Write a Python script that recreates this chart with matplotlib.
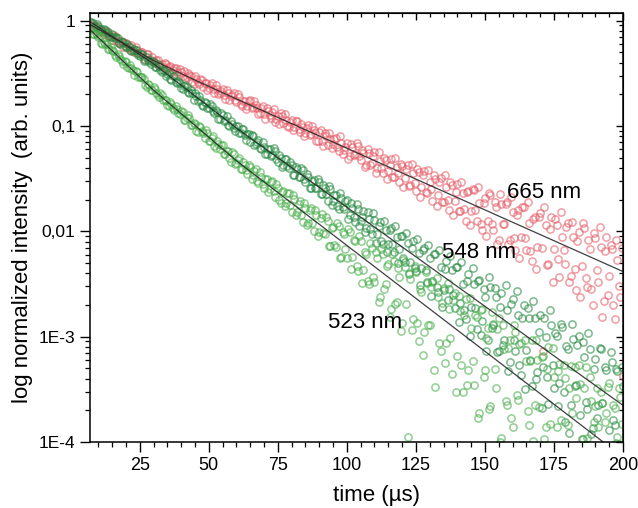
import matplotlib
matplotlib.use("Agg")
import matplotlib.pyplot as plt
import numpy as np
from matplotlib.ticker import FixedLocator, MultipleLocator, LogLocator, NullFormatter

plt.rcParams['font.family'] = ['Liberation Sans', 'DejaVu Sans']

# sampling times (µs), whole and half steps
time_us = [
    7, 8, 9, 10, 11, 12, 13, 14, 15, 16,
    17, 18, 19, 20, 21, 22, 23, 24, 25, 26,
    27, 28, 29, 30, 31, 32, 33, 34, 35, 36,
    37, 38, 39, 40, 41, 42, 43, 44, 45, 46,
    47, 48, 49, 50, 51, 52, 53, 54, 55, 56,
    57, 58, 59, 60, 61, 62, 63, 64, 65, 66,
    67, 68, 69, 70, 71, 72, 73, 74, 75, 76,
    77, 78, 79, 80, 81, 82, 83, 84, 85, 86,
    87, 88, 89, 90, 91, 92, 93, 94, 95, 96,
    97, 98, 99, 100, 101, 102, 103, 104, 105, 106,
    107, 108, 109, 110, 111, 112, 113, 114, 115, 116,
    117, 118, 119, 120, 121, 122, 123, 124, 125, 126,
    127, 128, 129, 130, 131, 132, 133, 134, 135, 136,
    137, 138, 139, 140, 141, 142, 143, 144, 145, 146,
    147, 148, 149, 150, 151, 152, 153, 154, 155, 156,
    157, 158, 159, 160, 161, 162, 163, 164, 165, 166,
    167, 168, 169, 170, 171, 172, 173, 174, 175, 176,
    177, 178, 179, 180, 181, 182, 183, 184, 185, 186,
    187, 188, 189, 190, 191, 192, 193, 194, 195, 196,
    197, 198, 199, 200,
]
time_half_us = [
    7.5, 8.5, 9.5, 10.5, 11.5, 12.5, 13.5, 14.5, 15.5, 16.5,
    17.5, 18.5, 19.5, 20.5, 21.5, 22.5, 23.5, 24.5, 25.5, 26.5,
    27.5, 28.5, 29.5, 30.5, 31.5, 32.5, 33.5, 34.5, 35.5, 36.5,
    37.5, 38.5, 39.5, 40.5, 41.5, 42.5, 43.5, 44.5, 45.5, 46.5,
    47.5, 48.5, 49.5, 50.5, 51.5, 52.5, 53.5, 54.5, 55.5, 56.5,
    57.5, 58.5, 59.5, 60.5, 61.5, 62.5, 63.5, 64.5, 65.5, 66.5,
    67.5, 68.5, 69.5, 70.5, 71.5, 72.5, 73.5, 74.5, 75.5, 76.5,
    77.5, 78.5, 79.5, 80.5, 81.5, 82.5, 83.5, 84.5, 85.5, 86.5,
    87.5, 88.5, 89.5, 90.5, 91.5, 92.5, 93.5, 94.5, 95.5, 96.5,
    97.5, 98.5, 99.5, 100.5, 101.5, 102.5, 103.5, 104.5, 105.5, 106.5,
    107.5, 108.5, 109.5, 110.5, 111.5, 112.5, 113.5, 114.5, 115.5, 116.5,
    117.5, 118.5, 119.5, 120.5, 121.5, 122.5, 123.5, 124.5, 125.5, 126.5,
    127.5, 128.5, 129.5, 130.5, 131.5, 132.5, 133.5, 134.5, 135.5, 136.5,
    137.5, 138.5, 139.5, 140.5, 141.5, 142.5, 143.5, 144.5, 145.5, 146.5,
    147.5, 148.5, 149.5, 150.5, 151.5, 152.5, 153.5, 154.5, 155.5, 156.5,
    157.5, 158.5, 159.5, 160.5, 161.5, 162.5, 163.5, 164.5, 165.5, 166.5,
    167.5, 168.5, 169.5, 170.5, 171.5, 172.5, 173.5, 174.5, 175.5, 176.5,
    177.5, 178.5, 179.5, 180.5, 181.5, 182.5, 183.5, 184.5, 185.5, 186.5,
    187.5, 188.5, 189.5, 190.5, 191.5, 192.5, 193.5, 194.5, 195.5, 196.5,
    197.5, 198.5, 199.5,
]

# log10 of normalized intensity
log_665 = [
    -0.03, -0.07, -0.05, -0.09, -0.09, -0.13, -0.10, -0.14, -0.18, -0.15,
    -0.20, -0.19, -0.25, -0.21, -0.25, -0.23, -0.30, -0.28, -0.31, -0.30,
    -0.35, -0.32, -0.37, -0.38, -0.37, -0.43, -0.41, -0.40, -0.46, -0.43,
    -0.47, -0.45, -0.52, -0.49, -0.48, -0.54, -0.52, -0.58, -0.53, -0.58,
    -0.55, -0.63, -0.59, -0.64, -0.59, -0.69, -0.65, -0.69, -0.65, -0.74,
    -0.69, -0.72, -0.69, -0.77, -0.73, -0.81, -0.76, -0.81, -0.75, -0.82,
    -0.80, -0.89, -0.83, -0.89, -0.83, -0.90, -0.87, -0.96, -0.91, -0.88,
    -0.97, -0.94, -1.01, -0.94, -1.01, -0.95, -1.06, -1.01, -1.07, -0.99,
    -1.08, -1.04, -1.14, -1.06, -1.14, -1.07, -1.18, -1.12, -1.17, -1.11,
    -1.24, -1.16, -1.23, -1.16, -1.29, -1.20, -1.27, -1.19, -1.32, -1.26,
    -1.37, -1.26, -1.35, -1.25, -1.40, -1.33, -1.45, -1.32, -1.43, -1.31,
    -1.48, -1.39, -1.53, -1.38, -1.49, -1.37, -1.56, -1.45, -1.62, -1.44,
    -1.58, -1.43, -1.64, -1.53, -1.71, -1.50, -1.66, -1.49, -1.72, -1.58,
    -1.80, -1.56, -1.71, -1.55, -1.81, -1.64, -1.90, -1.62, -1.81, -1.61,
    -1.90, -1.73, -1.99, -1.68, -1.90, -1.66, -1.99, -1.77, -2.08, -1.74,
    -1.93, -1.72, -2.08, -1.82, -2.18, -1.80, -2.05, -1.77, -2.18, -1.92,
    -2.28, -1.86, -2.15, -1.83, -3.14, -1.94, -2.31, -1.86, -2.17, -1.94,
    -2.43, -2.05, -2.31, -1.92, -2.42, -2.05, -2.56, -2.01, -2.33, -1.97,
    -2.53, -2.17, -2.70, -2.06, -2.48, -2.15, -2.66, -2.05, -2.42, -2.17,
    -2.83, -2.27, -2.62, -3.37,
]
log_665_half = [
    -0.06, -0.04, -0.07, -0.11, -0.10, -0.10, -0.15, -0.16, -0.14, -0.19,
    -0.21, -0.19, -0.21, -0.26, -0.25, -0.29, -0.25, -0.31, -0.30, -0.36,
    -0.32, -0.37, -0.35, -0.40, -0.37, -0.42, -0.44, -0.41, -0.44, -0.49,
    -0.45, -0.49, -0.46, -0.53, -0.55, -0.50, -0.53, -0.60, -0.55, -0.60,
    -0.56, -0.59, -0.66, -0.61, -0.65, -0.61, -0.70, -0.67, -0.71, -0.66,
    -0.75, -0.71, -0.75, -0.70, -0.79, -0.76, -0.84, -0.76, -0.83, -0.76,
    -0.83, -0.88, -0.81, -0.93, -0.86, -0.92, -0.84, -0.93, -0.98, -0.91,
    -0.89, -1.00, -0.96, -1.04, -0.95, -1.03, -0.98, -1.10, -1.02, -1.09,
    -1.00, -1.07, -1.14, -1.04, -1.19, -1.10, -1.07, -1.21, -1.12, -1.20,
    -1.10, -1.27, -1.20, -1.31, -1.17, -1.28, -1.16, -1.29, -1.23, -1.39,
    -1.22, -1.37, -1.29, -1.45, -1.25, -1.40, -1.30, -1.50, -1.37, -1.48,
    -1.30, -1.45, -1.36, -1.58, -1.41, -1.57, -1.36, -1.54, -1.41, -1.67,
    -1.47, -1.63, -1.42, -1.60, -1.47, -1.76, -1.53, -1.72, -1.47, -1.70,
    -1.53, -1.85, -1.63, -1.81, -1.53, -1.79, -1.63, -1.94, -1.60, -1.80,
    -1.58, -1.93, -1.73, -2.04, -1.64, -1.93, -1.72, -2.12, -1.65, -1.93,
    -1.74, -2.12, -1.67, -2.06, -1.85, -2.25, -1.77, -2.06, -1.72, -2.19,
    -1.88, -2.36, -1.86, -2.16, -1.77, -2.32, -1.98, -2.48, -1.88, -2.26,
    -1.82, -2.18, -1.96, -2.48, -1.91, -2.36, -2.09, -2.62, -1.92, -2.44,
    -2.08, -2.55, -2.02, -2.37, -1.96, -2.81, -2.19, -2.60, -2.13, -2.70,
    -2.08, -2.52, -2.16,
]

log_548 = [
    -0.01, -0.02, -0.06, -0.05, -0.08, -0.08, -0.12, -0.15, -0.13, -0.17,
    -0.17, -0.22, -0.20, -0.25, -0.24, -0.29, -0.27, -0.31, -0.34, -0.32,
    -0.37, -0.37, -0.41, -0.39, -0.44, -0.43, -0.49, -0.48, -0.51, -0.55,
    -0.53, -0.58, -0.57, -0.64, -0.62, -0.63, -0.69, -0.69, -0.69, -0.76,
    -0.75, -0.81, -0.78, -0.83, -0.81, -0.88, -0.87, -0.93, -0.90, -0.94,
    -0.99, -0.95, -1.02, -1.00, -1.07, -1.03, -1.09, -1.08, -1.15, -1.10,
    -1.17, -1.13, -1.22, -1.20, -1.27, -1.22, -1.28, -1.24, -1.34, -1.30,
    -1.37, -1.31, -1.40, -1.37, -1.47, -1.41, -1.48, -1.42, -1.53, -1.48,
    -1.59, -1.51, -1.59, -1.53, -1.65, -1.59, -1.71, -1.60, -1.71, -1.66,
    -1.79, -1.68, -1.79, -1.70, -1.85, -1.78, -1.91, -1.79, -1.90, -1.81,
    -1.97, -1.88, -2.03, -1.89, -2.03, -1.91, -2.12, -1.99, -2.12, -1.97,
    -2.20, -2.05, -2.17, -2.04, -2.29, -2.11, -2.29, -2.09, -2.38, -2.21,
    -2.35, -2.16, -2.48, -2.25, -2.47, -2.22, -2.58, -2.34, -2.56, -2.28,
    -2.55, -2.37, -2.73, -2.34, -2.68, -2.50, -2.83, -2.41, -2.72, -2.50,
    -2.93, -2.46, -2.85, -2.62, -3.03, -2.53, -2.89, -2.62, -3.14, -2.59,
    -3.03, -2.75, -3.24, -2.64, -3.14, -2.79, -3.36, -2.70, -3.13, -2.82,
    -3.47, -2.82, -3.34, -2.79, -3.29, -3.00, -3.64, -2.89, -3.49, -2.99,
    -3.44, -2.91, -3.81, -3.12, -3.65, -3.02, -3.46, -2.99, -3.97, -3.19,
    -3.69, -3.12, -3.87, -3.21, -3.65, -3.12, -4.17, -3.32, -3.89, -3.24,
    -3.84, -3.33, -4.13, -3.47,
]
log_548_half = [
    -0.01, -0.06, -0.03, -0.08, -0.11, -0.09, -0.11, -0.16, -0.16, -0.16,
    -0.21, -0.20, -0.24, -0.22, -0.28, -0.28, -0.28, -0.33, -0.32, -0.38,
    -0.35, -0.39, -0.38, -0.44, -0.41, -0.47, -0.47, -0.53, -0.50, -0.56,
    -0.53, -0.59, -0.59, -0.65, -0.61, -0.68, -0.66, -0.75, -0.72, -0.72,
    -0.80, -0.77, -0.83, -0.79, -0.86, -0.85, -0.93, -0.88, -0.95, -0.91,
    -1.00, -0.98, -1.05, -1.00, -1.07, -1.03, -1.13, -1.08, -1.09, -1.18,
    -1.15, -1.21, -1.15, -1.27, -1.22, -1.29, -1.21, -1.31, -1.28, -1.39,
    -1.31, -1.38, -1.34, -1.47, -1.39, -1.48, -1.40, -1.50, -1.46, -1.59,
    -1.52, -1.59, -1.50, -1.65, -1.56, -1.65, -1.57, -1.75, -1.66, -1.76,
    -1.64, -1.77, -1.71, -1.88, -1.73, -1.86, -1.74, -1.95, -1.86, -2.01,
    -1.82, -1.98, -1.83, -2.11, -1.95, -2.09, -1.90, -2.20, -1.99, -2.12,
    -1.95, -2.30, -2.04, -2.25, -2.02, -2.41, -2.16, -2.35, -2.07, -2.51,
    -2.18, -2.37, -2.13, -2.61, -2.22, -2.53, -2.18, -2.72, -2.36, -2.65,
    -2.23, -2.60, -2.34, -2.86, -2.29, -2.75, -2.47, -2.99, -2.35, -2.73,
    -2.47, -2.98, -2.55, -3.14, -2.43, -2.92, -2.54, -3.15, -2.72, -3.08,
    -2.51, -3.33, -2.69, -3.03, -2.57, -3.27, -2.82, -3.50, -2.73, -3.22,
    -2.66, -3.40, -2.96, -3.68, -2.82, -3.38, -2.75, -3.27, -2.97, -3.66,
    -2.88, -3.53, -3.09, -3.91, -2.88, -3.47, -3.08, -3.74, -3.05, -3.62,
    -2.97, -3.92, -3.31, -3.77, -3.11, -3.63, -3.29, -4.10, -3.15, -3.79,
    -3.31, -4.02, -3.29,
]

log_523 = [
    -0.08, -0.13, -0.12, -0.16, -0.21, -0.20, -0.22, -0.27, -0.28, -0.33,
    -0.32, -0.36, -0.41, -0.39, -0.45, -0.45, -0.52, -0.49, -0.54, -0.54,
    -0.61, -0.60, -0.66, -0.63, -0.69, -0.73, -0.71, -0.75, -0.80, -0.77,
    -0.83, -0.81, -0.88, -0.86, -0.94, -0.92, -0.92, -0.99, -0.98, -1.06,
    -1.01, -1.07, -1.04, -1.14, -1.11, -1.19, -1.14, -1.22, -1.18, -1.27,
    -1.24, -1.34, -1.27, -1.35, -1.30, -1.41, -1.37, -1.46, -1.39, -1.47,
    -1.41, -1.54, -1.48, -1.59, -1.50, -1.60, -1.52, -1.67, -1.59, -1.73,
    -1.62, -1.73, -1.64, -1.82, -1.69, -1.82, -1.71, -1.91, -1.78, -1.92,
    -1.78, -2.00, -1.85, -2.01, -1.84, -2.03, -1.90, -2.14, -1.96, -2.15,
    -1.95, -2.24, -2.03, -2.25, -2.01, -2.24, -2.09, -2.38, -2.09, -2.37,
    -2.22, -2.50, -2.16, -2.48, -2.25, -2.62, -2.22, -2.50, -2.31, -2.74,
    -2.28, -2.67, -2.43, -2.87, -2.34, -3.95, -2.45, -2.83, -2.39, -3.04,
    -2.58, -2.96, -2.49, -2.89, -2.48, -3.48, -2.62, -3.14, -2.54, -3.06,
    -2.74, -3.35, -2.59, -3.18, -2.76, -3.53, -2.64, -3.32, -2.92, -3.46,
    -2.81, -3.72, -2.74, -3.32, -2.92, -3.66, -2.88, -3.49, -2.82, -3.96,
    -3.12, -3.65, -3.03, -3.86, -2.96, -3.60, -3.06, -4.22, -3.23, -3.84,
    -3.03, -3.65, -3.22, -4.14, -3.18, -3.86, -3.10, -4.07, -3.38, -3.86,
    -3.26, -4.35, -3.39, -3.84, -3.28, -4.18, -3.58, -3.27, -4.14, -3.49,
    -3.96, -3.38, -4.42, -3.66, -3.86, -3.53, -4.35, -3.72, -3.44, -4.26,
    -3.68, -3.95, -3.57, -4.39,
]
log_523_half = [
    -0.08, -0.13, -0.14, -0.15, -0.22, -0.22, -0.27, -0.25, -0.29, -0.35,
    -0.34, -0.38, -0.38, -0.44, -0.42, -0.47, -0.48, -0.54, -0.54, -0.55,
    -0.63, -0.61, -0.66, -0.65, -0.71, -0.69, -0.75, -0.75, -0.81, -0.79,
    -0.85, -0.84, -0.89, -0.87, -0.94, -0.90, -0.99, -0.97, -1.05, -1.00,
    -1.05, -1.11, -1.07, -1.14, -1.10, -1.21, -1.17, -1.18, -1.27, -1.24,
    -1.30, -1.25, -1.36, -1.32, -1.41, -1.34, -1.42, -1.37, -1.50, -1.43,
    -1.52, -1.44, -1.55, -1.50, -1.63, -1.53, -1.62, -1.55, -1.70, -1.63,
    -1.76, -1.64, -1.75, -1.66, -1.85, -1.74, -1.85, -1.73, -1.94, -1.80,
    -1.92, -1.80, -2.04, -1.87, -2.02, -1.86, -2.14, -1.97, -2.13, -1.92,
    -2.25, -2.01, -2.17, -1.98, -2.36, -2.08, -2.33, -2.04, -2.49, -2.20,
    -2.47, -2.11, -2.43, -2.20, -2.67, -2.17, -2.55, -2.33, -2.81, -2.22,
    -2.69, -2.35, -2.95, -2.27, -2.69, -2.40, -2.94, -2.33, -2.87, -2.55,
    -3.17, -2.39, -2.89, -2.53, -3.32, -2.44, -3.06, -2.68, -3.25, -2.49,
    -3.01, -2.65, -3.53, -2.61, -3.27, -2.79, -3.46, -2.63, -3.23, -2.79,
    -3.77, -2.75, -3.38, -3.01, -3.69, -2.77, -3.31, -2.93, -4.00, -2.89,
    -3.61, -3.11, -3.77, -2.89, -3.55, -3.07, -4.03, -3.03, -3.71, -3.23,
    -3.99, -3.03, -3.67, -3.19, -3.97, -3.31, -3.83, -3.11, -4.23, -3.33,
    -3.79, -3.27, -4.08, -3.49, -3.72, -3.29, -4.09, -3.45, -3.97, -3.29,
    -4.29, -3.61, -3.81, -3.49, -4.27, -3.63, -3.81, -3.48, -4.25, -3.65,
    -4.01, -3.49, -3.83,
]

# fitted decay curves (log10), read at a few times
fit_t_665 = [7, 15, 22, 30, 45, 60, 200]
fit_665 = [-0.038, -0.156, -0.26, -0.378, -0.565, -0.744, -2.382]
fit_t_548 = [7, 30, 45, 60, 200]
fit_548 = [-0.01, -0.41, -0.715, -1.02, -3.652]
fit_t_523 = [7, 18, 30, 45, 60, 200]
fit_523 = [-0.086, -0.361, -0.66, -0.995, -1.33, -4.144]

series_labels = ['665 nm', '548 nm', '523 nm']
label_t = [171.3, 147.8, 106.6]
label_y = [0.0231, 0.00634, 0.00137]

xticks = [25, 50, 75, 100, 125, 150, 175, 200]
yticks = [1e-4, 1e-3, 1e-2, 1e-1, 1]
ytick_labels = ['1E-4', '1E-3', '0,01', '0,1', '1']

fig = plt.figure(figsize=(6.38, 5.08), dpi=100)
ax = fig.add_axes([0.1411, 0.1299, 0.8354, 0.8445])

t = np.array(time_us + time_half_us)
series = [
    (log_665 + log_665_half, '#e65d68'),
    (log_548 + log_548_half, '#248a40'),
    (log_523 + log_523_half, '#46ae49'),
]
for vals, col in series:
    ax.plot(t, 10 ** np.array(vals), 'o', mfc='none', mec=col, ms=5.2, mew=1.1, alpha=0.6)

for ft, fv in [(fit_t_665, fit_665), (fit_t_548, fit_548), (fit_t_523, fit_523)]:
    ax.plot(ft, 10 ** np.array(fv), color='#2a2a2a', lw=0.9, alpha=0.9)

for lab, lx, ly in zip(series_labels, label_t, label_y):
    ax.text(lx, ly, lab, fontsize=16, ha='center', va='center')

ax.set_yscale('log')
ax.set_xlim(7, 200)
ax.set_ylim(1e-4, 1.18)

ax.xaxis.set_major_locator(FixedLocator(xticks))
ax.xaxis.set_minor_locator(MultipleLocator(5))
ax.yaxis.set_major_locator(FixedLocator(yticks))
ax.set_yticklabels(ytick_labels)
ax.yaxis.set_minor_locator(LogLocator(base=10, subs=np.arange(2, 10)))
ax.yaxis.set_minor_formatter(NullFormatter())

ax.tick_params(which='major', direction='out', length=7, width=1.0, labelsize=13)
ax.tick_params(which='minor', direction='out', length=3.5, width=0.9)
ax.tick_params(axis='y', which='major', labelsize=12.5)
for s in ax.spines.values():
    s.set_linewidth(1.1)

# mirrored ticks on top and right, pointing inwards
top = ax.secondary_xaxis('top')
top.xaxis.set_major_locator(FixedLocator(xticks))
top.xaxis.set_minor_locator(MultipleLocator(5))
top.xaxis.set_major_formatter(NullFormatter())
top.tick_params(which='major', direction='in', length=5, width=1.0)
top.tick_params(which='minor', direction='in', length=3, width=0.9)

right = ax.secondary_yaxis('right')
right.yaxis.set_major_locator(FixedLocator(yticks))
right.yaxis.set_minor_locator(LogLocator(base=10, subs=np.arange(2, 10)))
right.yaxis.set_major_formatter(NullFormatter())
right.yaxis.set_minor_formatter(NullFormatter())
right.tick_params(which='major', direction='in', length=5, width=1.0)
right.tick_params(which='minor', direction='in', length=3, width=0.9)

ax.set_xlabel('time (µs)', fontsize=16)
ax.xaxis.set_label_coords(0.537, -0.10)
ax.set_ylabel('log normalized intensity  (arb. units)', fontsize=16)

fig.savefig('out.png', dpi=100)
